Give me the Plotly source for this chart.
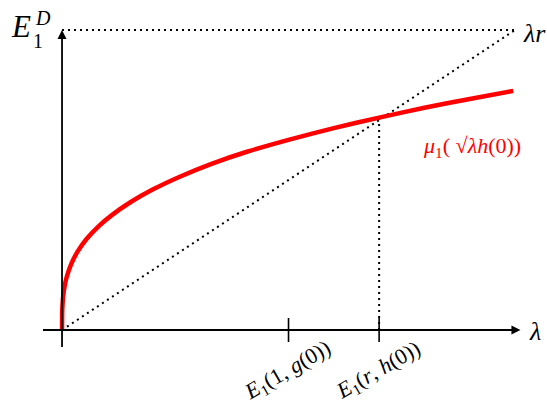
import plotly.graph_objects as go

# red curve samples (lambda, mu)
lam = [0, 0.0003, 0.001, 0.003, 0.006, 0.01, 0.02, 0.035, 0.055, 0.08, 0.11, 0.15, 0.2,
       0.26, 0.33, 0.41, 0.5, 0.6, 0.7, 0.8, 0.9, 0.996]
mu = [0, 0.056, 0.082, 0.118, 0.148, 0.175, 0.219, 0.263, 0.305, 0.345, 0.383, 0.425, 0.468,
      0.511, 0.554, 0.595, 0.634, 0.673, 0.708, 0.741, 0.770, 0.797]

x_ticks = [0.5, 0.7]
x_tick_labels = ["<i>E</i><sub>1</sub>(1, <i>g</i>(0))", "<i>E</i><sub>1</sub>(<i>r</i>, <i>h</i>(0))"]
r_value = 0.7
top_value = 1.0

FONT = "Liberation Serif"
fig = go.Figure()

dot = "2px,4px"
# diagonal
fig.add_trace(go.Scatter(x=[0, top_value], y=[0, top_value], mode="lines",
                         line=dict(color="black", width=2, dash=dot), hoverinfo="skip"))
# top horizontal
fig.add_trace(go.Scatter(x=[0, top_value], y=[top_value, top_value], mode="lines",
                         line=dict(color="black", width=2, dash=dot), hoverinfo="skip"))
# vertical at r
fig.add_trace(go.Scatter(x=[r_value, r_value], y=[0, r_value + 0.01], mode="lines",
                         line=dict(color="black", width=2, dash=dot), hoverinfo="skip"))
# red curve
fig.add_trace(go.Scatter(x=lam, y=mu, mode="lines", line=dict(color="red", width=4.5, shape="spline", smoothing=0.5),
                         hoverinfo="skip"))

# ticks
for t in x_ticks:
    fig.add_shape(type="line", x0=t, x1=t, y0=-0.04, y1=0.04, line=dict(color="black", width=1.6))

# axes lines
fig.add_shape(type="line", x0=-0.042, x1=1.0, y0=0, y1=0, line=dict(color="black", width=1.8))
fig.add_shape(type="line", x0=0, x1=0, y0=-0.057, y1=0.99, line=dict(color="black", width=1.8))
# arrow heads
fig.add_annotation(x=1.012, y=0, ax=0.98, ay=0, xref="x", yref="y", axref="x", ayref="y",
                   showarrow=True, arrowhead=2, arrowwidth=1.8, arrowsize=1, arrowcolor="black", text=" ")
fig.add_annotation(x=0, y=1.0, ax=0, ay=0.95, xref="x", yref="y", axref="x", ayref="y",
                   showarrow=True, arrowhead=2, arrowwidth=1.8, arrowsize=1, arrowcolor="black", text=" ")

def txt(x, y, s, size, color="black", angle=0, xa="center", ya="middle"):
    fig.add_annotation(x=x, y=y, xref="x", yref="y", text=s, showarrow=False, textangle=angle,
                       xanchor=xa, yanchor=ya, font=dict(family=FONT, size=size, color=color))

# labels
txt(-0.09, 1.013, "<i>E</i>", 31)
txt(-0.053, 0.965, "1", 20)
txt(-0.041, 1.04, "<i>D</i>", 20)
txt(1.042, 0.99, "<i>λr</i>", 26)
txt(1.045, -0.005, "<i>λ</i>", 26)
txt(0.905, 0.61, "<i>μ</i><sub>1</sub>( √<i>λh</i>(0))", 22, color="red")
for t, s in zip(x_ticks, x_tick_labels):
    txt(t - 0.002, -0.135, s, 22, angle=-30)

fig.update_layout(width=547, height=403, margin=dict(l=0, r=0, t=0, b=0),
                  paper_bgcolor="white", plot_bgcolor="white", showlegend=False,
                  xaxis=dict(range=[-0.1369, 1.0706], visible=False, fixedrange=True),
                  yaxis=dict(range=[-0.2433, 1.1], visible=False, fixedrange=True))
fig.write_html("out.html")
